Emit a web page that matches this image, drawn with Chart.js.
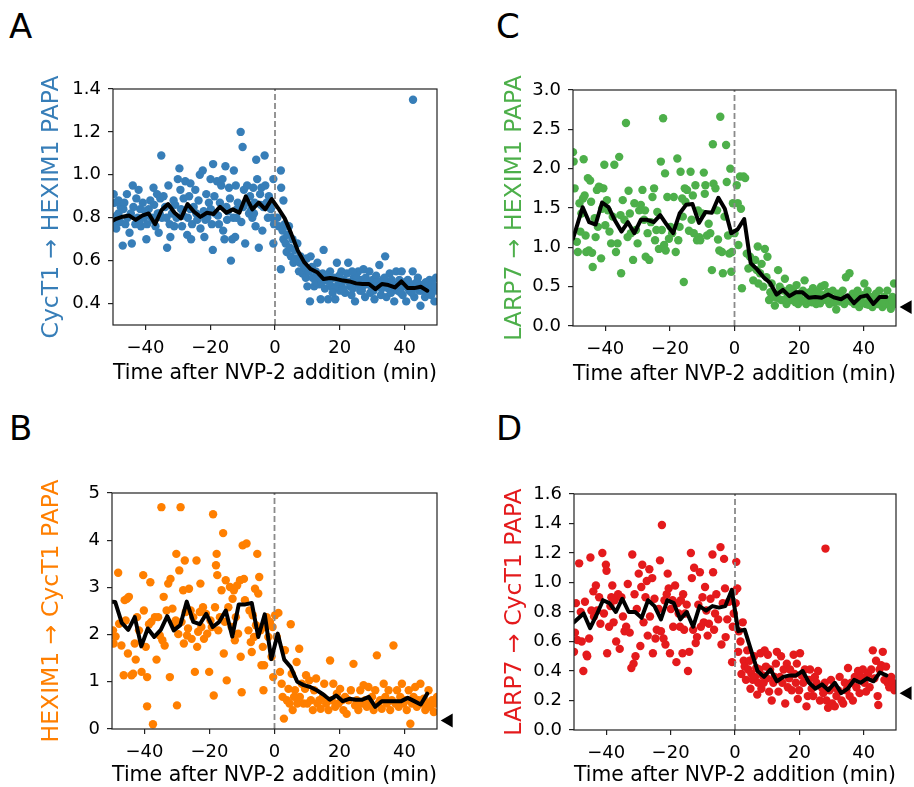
<!DOCTYPE html>
<html>
<head>
  <title>PAPA after NVP-2 addition</title>
  <script src="https://cdn.jsdelivr.net/npm/chart.js"></script>
  <style>
    html, body { margin: 0; padding: 0; background: #fff; overflow: hidden; }
    body { width: 914px; height: 787px; position: relative; font-family: 'DejaVu Sans', sans-serif; }
    canvas { position: absolute; }
    .tag { position: absolute; font-size: 34px; line-height: 34px; color: #000; }
  </style>
</head>
<body>
  <div class="tag" style="left:9px;top:9px">A</div>
  <div class="tag" style="left:496px;top:9px">C</div>
  <div class="tag" style="left:9px;top:411px">B</div>
  <div class="tag" style="left:496px;top:411px">D</div>

  <canvas id="chartA" width="457" height="350" style="left:0;top:50px"></canvas>
  <canvas id="chartC" width="457" height="350" style="left:457px;top:50px"></canvas>
  <canvas id="chartB" width="457" height="350" style="left:0;top:450px"></canvas>
  <canvas id="chartD" width="457" height="350" style="left:457px;top:450px"></canvas>

  <script>
    // ---- data ----
    const timeTicks = [-40, -20, 0, 20, 40];
    const yTicksA = [0.4, 0.6, 0.8, 1.0, 1.2, 1.4];
    const yTicksB = [0, 1, 2, 3, 4, 5];
    const yTicksC = [0.0, 0.5, 1.0, 1.5, 2.0, 2.5, 3.0];
    const yTicksD = [0.0, 0.2, 0.4, 0.6, 0.8, 1.0, 1.2, 1.4, 1.6];

    // running mean (black line)
    const meanTimeA = [-51,-49,-47,-45,-43,-41,-39,-37,-35,-33,-31,-29,-27,-25,-23,-21,-19,-17,-15,-13,-11,-9,-7,-5,-3,-1,1,3,5,7,9,11,13,15,17,19,21,23,25,27,29,31,33,35,37,39,41,43,45,47];
    const meanA = [0.78,0.795,0.805,0.81,0.79,0.81,0.82,0.77,0.836,0.864,0.823,0.797,0.864,0.828,0.804,0.823,0.817,0.851,0.823,0.839,0.823,0.90,0.839,0.87,0.839,0.887,0.844,0.797,0.726,0.648,0.593,0.561,0.546,0.514,0.519,0.514,0.507,0.503,0.494,0.491,0.491,0.467,0.491,0.486,0.475,0.503,0.472,0.472,0.478,0.46];

    const meanTimeC = [-50,-47,-45,-43,-41,-39,-37,-35,-33,-31,-29,-27,-25,-23,-21,-19,-17,-15,-13,-11,-9,-7,-5,-3,-1,1,3,5,7,9,11,13,15,17,19,21,23,25,27,29,31,33,35,37,39,41,43,45,47];
    const meanC = [1.11,1.51,1.32,1.29,1.57,1.51,1.34,1.20,1.32,1.18,1.35,1.35,1.32,1.41,1.29,1.18,1.43,1.54,1.55,1.31,1.45,1.44,1.63,1.49,1.18,1.23,1.36,0.80,0.72,0.62,0.55,0.40,0.46,0.38,0.43,0.43,0.36,0.37,0.36,0.40,0.36,0.34,0.39,0.29,0.37,0.39,0.28,0.37,0.37];

    const meanTimeB = [-51,-49,-47,-45,-43,-41,-39,-37,-35,-33,-31,-29,-27,-25,-23,-21,-19,-17,-15,-13,-11,-9,-7,-5,-3,-1,1,3,5,7,9,11,13,15,17,19,21,23,25,27,29,31,33,35,37,39,41,43,45,47];
    const meanB = [2.70,2.69,2.25,2.10,2.37,1.75,2.13,1.95,2.10,2.39,2.09,2.20,2.70,2.27,2.22,2.44,2.16,2.27,2.51,1.96,2.64,2.64,2.67,1.95,2.43,1.48,2.02,1.47,1.31,1.00,0.93,0.89,0.82,0.73,0.62,0.71,0.59,0.64,0.62,0.62,0.68,0.47,0.59,0.59,0.59,0.59,0.66,0.59,0.52,0.75];

    const meanTimeD = [-50,-47,-45,-43,-41,-39,-37,-35,-33,-31,-29,-27,-25,-23,-21,-19,-17,-15,-13,-11,-9,-7,-5,-3,-1,1,3,5,7,9,11,13,15,17,19,21,23,25,27,29,31,33,35,37,39,41,43,45,47];
    const meanD = [0.73,0.79,0.69,0.78,0.88,0.86,0.80,0.89,0.80,0.80,0.76,0.88,0.84,0.75,0.88,0.86,0.75,0.80,0.70,0.84,0.81,0.84,0.83,0.84,0.95,0.67,0.68,0.54,0.40,0.36,0.41,0.33,0.36,0.37,0.37,0.40,0.32,0.28,0.31,0.27,0.32,0.25,0.28,0.34,0.32,0.35,0.33,0.39,0.37];

    // single-cell values [time, PAPA]
    const cellsA = [
      [-49.8,0.91],[-49.6,0.87],[-49.3,0.77],[-49.0,0.75],[-48.3,0.82],[-48.3,0.88],[-47.6,0.85],[-47.8,0.78],[-47.0,0.67],[-46.5,0.87],
      [-46.2,0.77],[-45.7,0.91],[-45.5,0.80],[-44.9,0.73],[-44.2,0.68],[-43.9,0.95],[-43.7,0.85],[-43.1,0.77],[-42.8,0.89],[-42.4,0.80],
      [-42.1,0.93],[-41.6,0.84],[-41.4,0.76],[-40.8,0.87],[-40.4,0.80],[-39.7,0.70],[-39.5,0.77],[-39.0,0.84],[-38.5,0.88],[-38.0,0.80],
      [-37.5,0.94],[-37.3,0.86],[-36.9,0.76],[-36.4,0.91],[-36.2,0.82],[-35.9,0.73],[-35.4,0.89],[-35.1,1.09],[-34.9,0.80],[-34.4,0.90],
      [-33.9,0.85],[-33.3,0.66],[-32.9,0.95],[-32.5,0.77],[-32.3,0.71],[-31.8,0.82],[-31.3,0.88],[-31.1,0.76],[-30.4,0.80],[-30.0,0.98],
      [-29.5,1.03],[-29.2,0.93],[-29.0,0.84],[-28.7,0.76],[-28.2,0.89],[-27.7,0.97],[-27.1,0.72],[-26.9,0.80],[-26.5,0.90],[-26.1,0.96],
      [-25.9,0.70],[-25.6,0.77],[-25.1,0.85],[-24.6,0.93],[-24.0,0.79],[-23.6,0.88],[-23.2,1.00],[-23.0,0.75],[-22.3,1.02],[-22.0,0.83],
      [-21.8,0.71],[-21.2,0.91],[-20.9,0.80],[-20.4,0.87],[-19.9,0.98],[-19.5,0.77],[-19.2,0.65],[-19.1,1.05],[-18.7,0.90],[-18.4,0.82],
      [-17.9,0.97],[-17.3,0.77],[-17.0,0.87],[-16.6,0.95],[-16.2,0.98],[-16.0,0.74],[-15.6,0.70],[-15.3,1.04],[-15.0,0.85],[-14.8,0.79],
      [-14.2,0.94],[-13.9,0.89],[-13.6,0.60],[-13.2,0.70],[-12.9,0.80],[-12.7,1.02],[-12.3,0.71],[-12.1,0.95],[-11.7,0.84],[-11.5,0.87],
      [-10.6,1.20],[-10.4,0.78],[-10.0,1.13],[-9.6,0.93],[-9.2,0.68],[-9.0,0.87],[-8.6,0.95],[-8.0,0.82],[-7.7,0.90],[-7.3,0.84],
      [-7.0,0.80],[-6.7,0.94],[-6.3,0.87],[-6.0,0.76],[-5.8,1.07],[-5.5,0.98],[-5.0,0.66],[-4.6,0.91],[-4.2,0.94],[-3.9,0.74],
      [-3.6,0.85],[-3.2,1.09],[-3.0,0.95],[-2.6,0.87],[-1.9,0.90],[-1.3,0.84],[-0.8,0.80],[-0.5,0.98],[-0.5,0.68],[-0.3,0.77],
      [-48.8,0.81],[-46.8,0.84],[-44.5,0.82],[-42.0,0.78],[-40.0,0.83],[-37.8,0.79],[-35.6,0.82],[-33.5,0.80],[-30.8,0.86],[-28.4,0.81],
      [-26.2,0.84],[-24.3,0.82],[-21.5,0.79],[-19.8,0.84],[-17.6,0.81],[-14.5,0.83],[-11.9,0.80],[-9.8,0.85],[-6.5,0.82],[-4.4,0.86],
      [-2.2,0.80],[-1.0,0.85],
      [1.8,1.02],[1.9,0.94],[2.6,0.88],[0.7,0.80],[1.2,0.76],[1.8,0.56],[2.3,0.74],[2.6,0.70],[3.0,0.77],[3.3,0.68],
      [3.6,0.64],[3.8,0.72],[4.3,0.76],[4.6,0.66],[4.9,0.62],[5.4,0.70],[5.7,0.59],[6.1,0.65],[6.4,0.61],[6.9,0.68],
      [7.4,0.55],[7.7,0.59],[7.9,0.62],[8.5,0.54],[9.0,0.57],[9.5,0.52],[9.8,0.61],[10.0,0.48],[10.5,0.55],[10.8,0.41],
      [11.0,0.62],[11.6,0.52],[12.1,0.48],[12.6,0.55],[13.1,0.59],[13.6,0.49],[14.1,0.42],[14.7,0.54],[15.0,0.65],[15.4,0.47],
      [16.0,0.51],[16.4,0.42],[17.0,0.55],[17.4,0.48],[18.1,0.52],[18.6,0.42],[19.1,0.59],[19.5,0.49],[20.1,0.46],[20.5,0.55],
      [21.2,0.51],[21.6,0.45],[22.2,0.54],[22.6,0.59],[23.2,0.48],[23.6,0.44],[24.3,0.52],[24.7,0.41],[25.3,0.49],[25.7,0.55],
      [26.3,0.46],[26.7,0.51],[27.3,0.56],[27.8,0.43],[28.4,0.49],[29.1,0.55],[29.4,0.45],[30.1,0.51],[30.7,0.42],[31.2,0.53],
      [31.7,0.48],[32.2,0.58],[32.7,0.44],[33.2,0.51],[34.0,0.62],[34.4,0.43],[34.8,0.49],[35.4,0.54],[35.8,0.45],[36.4,0.49],
      [36.8,0.41],[37.4,0.55],[37.9,0.46],[38.4,0.51],[39.1,0.55],[39.4,0.44],[39.9,0.48],[40.5,0.41],[41.0,0.51],[41.5,0.46],
      [42.0,0.49],[42.6,1.35],[42.5,0.55],[43.0,0.43],[43.5,0.48],[44.1,0.52],[44.9,0.39],[45.3,0.46],[45.9,0.49],[46.3,0.43],
      [47.0,0.47],[47.7,0.51],[48.2,0.44],[48.7,0.47],[49.2,0.41],[49.7,0.52],[50.0,0.46],
      [12.5,0.50],[13.8,0.52],[16.8,0.50],[18.4,0.47],[19.8,0.53],[21.0,0.47],[22.9,0.50],[24.0,0.47],[25.0,0.53],[26.0,0.50],
      [27.0,0.48],[28.0,0.52],[29.8,0.48],[30.4,0.46],[31.5,0.50],[32.9,0.47],[33.8,0.52],[35.0,0.47],[36.0,0.51],[37.0,0.48],
      [38.0,0.49],[38.8,0.45],[40.2,0.50],[41.2,0.47],[42.2,0.45],[43.8,0.50],[44.5,0.46],[45.6,0.47],[46.6,0.50],[47.4,0.45],
      [48.5,0.49],[49.5,0.48],[11.4,0.57],[12.9,0.53],[14.4,0.50],[15.8,0.53],[17.8,0.45],[20.8,0.50],[23.8,0.55],[26.8,0.46]
    ];

    const cellsC = [
      [-50.0,2.21],[-49.8,2.09],[-49.5,1.75],[-48.5,0.94],[-48.8,1.07],[-48.0,1.56],[-47.7,1.20],[-47.4,1.43],[-46.9,1.62],[-46.7,2.12],
      [-46.4,1.66],[-46.1,1.15],[-45.9,0.94],[-45.4,1.88],[-45.1,0.96],[-44.7,1.85],[-44.4,1.58],[-44.1,0.93],[-43.9,0.75],[-43.3,1.37],
      [-43.0,1.13],[-42.6,1.73],[-42.3,1.26],[-42.0,1.77],[-41.6,1.76],[-41.3,0.86],[-41.0,1.49],[-40.6,1.75],[-40.3,2.05],[-40.0,1.28],
      [-39.5,1.60],[-39.2,1.47],[-38.7,1.20],[-38.2,1.05],[-37.7,1.39],[-37.2,2.05],[-36.7,0.94],[-36.2,1.05],[-35.7,2.15],[-35.3,1.41],
      [-35.1,0.67],[-34.6,1.60],[-34.1,1.35],[-33.6,2.58],[-33.1,1.13],[-32.8,1.72],[-32.4,1.43],[-32.1,1.18],[-31.4,0.84],[-31.0,1.56],
      [-30.5,1.22],[-30.0,1.05],[-29.5,1.47],[-29.0,1.54],[-28.5,1.73],[-28.0,1.35],[-27.7,1.47],[-27.5,0.88],[-26.9,1.18],[-26.4,0.84],
      [-25.9,1.32],[-25.4,1.64],[-24.9,1.75],[-24.6,1.09],[-24.2,1.22],[-23.9,1.45],[-23.4,0.98],[-22.8,2.09],[-22.5,1.22],[-22.1,2.64],
      [-21.8,1.03],[-21.5,1.94],[-21.3,0.96],[-20.8,1.64],[-20.3,1.11],[-19.8,1.26],[-19.3,1.18],[-18.8,1.64],[-18.2,0.94],[-17.7,2.13],
      [-17.4,1.09],[-17.0,1.26],[-16.7,1.96],[-16.2,1.62],[-16.0,1.39],[-15.7,0.56],[-15.4,1.75],[-15.2,1.58],[-14.7,1.73],[-14.1,1.21],
      [-13.6,1.96],[-13.3,1.35],[-12.9,1.66],[-12.6,1.18],[-12.1,1.79],[-11.6,1.09],[-11.3,1.47],[-10.9,1.13],[-10.6,1.09],[-10.0,1.43],
      [-9.5,1.95],[-9.2,1.68],[-9.0,1.79],[-8.5,1.15],[-8.0,1.30],[-7.5,1.18],[-7.0,0.71],[-6.7,2.31],[-6.5,1.81],[-5.9,1.75],
      [-5.4,1.47],[-5.1,1.10],[-4.7,0.96],[-4.4,2.66],[-3.9,0.94],[-3.6,0.67],[-3.1,1.39],[-2.6,2.30],[-2.4,1.83],[-2.0,1.15],
      [-1.6,0.92],[-1.3,2.00],[-1.0,0.69],[-0.8,0.94],[-0.5,1.56],[0.0,1.18],[0.7,1.79],[1.0,1.56],[1.2,1.03],[1.7,1.90],
      [2.0,1.49],[2.3,0.48],[2.8,1.90],[3.3,1.88],[3.8,0.92],[4.3,0.73],[4.8,0.88],[5.3,0.75],[5.8,0.58],[6.4,0.84],
      [6.9,0.71],[7.2,1.01],[7.4,0.54],[7.9,0.67],[8.4,0.79],[8.9,0.50],[9.4,0.98],[9.9,0.62],[10.2,0.88],[10.7,0.33],
      [11.1,0.43],[11.5,0.54],[12.0,0.37],[12.5,0.26],[13.0,0.41],[13.5,0.71],[14.0,0.50],[14.5,0.33],[15.1,0.45],[15.6,0.60],
      [16.1,0.28],[16.6,0.39],[17.1,0.48],[17.6,0.33],[18.1,0.45],[18.6,0.37],[19.2,0.52],[19.7,0.28],[20.2,0.41],[20.7,0.33],
      [21.2,0.45],[21.7,0.58],[22.2,0.28],[22.7,0.37],[23.3,0.43],[23.8,0.33],[24.3,0.48],[24.8,0.37],[25.3,0.28],[25.8,0.43],
      [26.3,0.33],[26.8,0.50],[27.4,0.39],[27.9,0.52],[28.4,0.33],[28.9,0.43],[29.4,0.28],[29.9,0.35],[30.4,0.45],[30.9,0.33],
      [31.5,0.21],[32.0,0.41],[32.5,0.31],[33.0,0.37],[33.5,0.45],[34.0,0.28],[34.5,0.62],[35.0,0.35],[35.6,0.67],[36.1,0.31],
      [36.6,0.41],[37.1,0.28],[37.6,0.37],[38.1,0.45],[38.6,0.24],[39.1,0.33],[39.7,0.39],[40.2,0.54],[40.7,0.28],[41.2,0.45],
      [41.7,0.33],[42.2,0.37],[42.7,0.24],[43.2,0.33],[43.8,0.41],[44.3,0.28],[44.8,0.45],[45.3,0.33],[45.8,0.24],[46.3,0.37],
      [46.8,0.28],[47.3,0.45],[47.8,0.33],[48.4,0.22],[48.9,0.37],[49.4,0.54],[49.6,0.28],
      [13.2,0.36],[15.8,0.34],[18.9,0.30],[21.5,0.32],[24.0,0.30],[26.5,0.29],[29.0,0.36],[31.0,0.30],[33.8,0.33],[36.4,0.35],
      [38.9,0.30],[41.5,0.27],[44.0,0.36],[46.0,0.30],[48.0,0.27],[49.0,0.31]
    ];

    const cellsB = [
      [-49.7,2.09],[-49.5,1.81],[-48.9,1.96],[-48.1,3.31],[-47.8,2.23],[-47.1,1.77],[-46.4,1.14],[-46.1,2.73],[-45.8,2.30],[-45.4,2.76],
      [-45.1,1.60],[-44.8,2.80],[-44.0,1.14],[-43.5,1.17],[-43.0,1.81],[-42.7,1.47],[-42.3,2.37],[-41.7,2.09],[-40.9,1.21],[-40.4,3.26],
      [-40.2,2.51],[-39.6,1.74],[-39.2,1.10],[-38.6,2.22],[-38.2,3.11],[-37.9,2.27],[-37.4,0.10],[-39.2,0.48],[-36.8,2.37],[-36.3,1.47],
      [-35.8,2.37],[-35.3,1.98],[-34.8,4.70],[-34.5,1.88],[-34.1,2.80],[-33.8,1.77],[-33.2,2.51],[-32.7,3.08],[-32.2,1.10],[-32.0,3.18],
      [-31.4,2.55],[-31.0,2.23],[-30.4,2.30],[-30.2,3.71],[-30.0,0.50],[-29.6,2.01],[-29.3,3.36],[-28.9,4.70],[-28.6,2.27],[-28.1,2.94],
      [-27.9,1.81],[-27.6,3.57],[-27.3,2.48],[-26.9,1.98],[-26.6,2.13],[-26.3,2.97],[-25.8,2.51],[-25.5,1.91],[-25.0,2.37],[-24.5,1.21],
      [-24.0,3.57],[-23.8,1.74],[-23.5,2.06],[-23.0,2.48],[-22.8,3.08],[-22.5,2.16],[-22.0,2.58],[-21.7,1.91],[-21.1,2.44],[-20.7,2.02],
      [-20.1,1.21],[-19.7,2.30],[-19.3,2.16],[-18.9,4.55],[-18.7,0.71],[-18.3,2.58],[-18.0,3.47],[-17.8,3.71],[-17.6,3.26],[-17.3,2.09],
      [-16.8,2.37],[-16.3,2.94],[-15.8,4.15],[-15.6,1.60],[-15.3,2.27],[-15.0,3.15],[-14.7,1.03],[-14.2,2.58],[-13.7,3.01],[-13.2,2.16],
      [-12.9,2.76],[-12.5,2.94],[-12.2,1.88],[-11.9,2.37],[-11.5,3.04],[-11.2,2.02],[-10.6,3.15],[-10.4,1.53],[-10.1,0.78],[-9.8,3.89],
      [-9.4,3.18],[-9.1,2.73],[-8.6,3.93],[-8.0,2.09],[-7.7,2.51],[-7.3,1.84],[-7.0,1.63],[-6.7,2.41],[-6.3,1.95],[-6.0,2.97],
      [-5.7,2.20],[-5.3,3.71],[-5.0,2.87],[-4.7,3.22],[-4.3,2.09],[-4.0,1.35],[-3.6,1.74],[-3.4,0.82],[-3.2,1.35],[-2.9,2.16],
      [-2.4,2.37],[-1.9,1.95],[-1.4,2.27],[-0.9,1.53],[-0.6,2.16],[-0.4,1.10],[0.2,2.41],[0.7,1.95],[1.2,2.46],[1.7,1.21],
      [2.2,0.96],[2.5,0.68],[2.9,0.22],[3.2,1.67],[3.8,0.61],[4.3,0.85],[4.6,0.54],[5.0,2.22],[5.3,1.17],[5.6,0.40],
      [6.0,0.68],[6.3,0.82],[6.8,1.42],[7.0,0.54],[7.6,1.70],[7.8,0.68],[8.4,0.96],[8.9,0.54],[9.4,0.85],[9.7,1.14],
      [10.1,0.54],[10.7,1.03],[11.2,0.61],[11.8,0.40],[12.2,0.82],[12.8,1.07],[13.2,0.54],[13.8,0.61],[14.2,0.43],[14.9,0.68],
      [15.3,0.96],[15.9,0.54],[16.6,0.40],[17.1,1.45],[17.6,0.61],[18.1,0.96],[18.7,0.47],[19.2,0.75],[19.7,0.54],[20.2,0.85],
      [20.7,0.61],[21.2,0.40],[21.7,0.68],[22.2,0.32],[22.8,0.61],[23.5,0.82],[24.3,1.38],[24.8,0.50],[25.3,0.61],[25.8,0.40],
      [26.4,0.82],[26.9,0.54],[27.4,0.93],[27.9,0.61],[28.4,0.47],[28.9,0.89],[29.4,0.54],[30.0,0.68],[30.5,0.40],[31.0,0.82],
      [31.5,1.56],[32.0,0.54],[32.5,0.61],[33.0,0.43],[33.6,0.96],[34.1,0.68],[34.6,0.54],[35.1,0.82],[35.6,0.40],[36.1,0.61],
      [36.6,1.77],[37.2,0.54],[37.7,0.82],[38.2,0.47],[38.7,0.68],[39.2,0.96],[39.7,0.54],[40.2,0.61],[40.7,0.40],[41.3,0.82],
      [41.8,0.11],[42.3,0.54],[42.8,0.68],[43.3,0.89],[43.8,0.47],[44.3,0.61],[44.9,0.96],[45.4,0.54],[45.9,0.64],[46.4,0.40],
      [46.9,0.54],[47.4,0.82],[47.9,0.47],[48.5,0.61],[49.0,0.36],[49.5,0.54],[50.0,0.68]
    ];

    const cellsD = [
      [-50.0,0.53],[-49.7,0.66],[-49.4,0.86],[-49.0,0.61],[-48.4,1.13],[-47.9,0.80],[-47.6,0.60],[-47.1,0.40],[-46.6,0.87],[-46.1,0.51],
      [-45.9,0.50],[-45.3,0.62],[-44.9,1.17],[-44.6,0.81],[-44.0,0.94],[-43.8,0.77],[-43.2,0.98],[-42.8,0.81],[-42.2,0.90],[-41.8,0.72],
      [-41.2,1.20],[-40.7,0.79],[-40.1,1.12],[-39.9,1.08],[-39.7,0.52],[-39.1,0.70],[-38.7,0.84],[-38.4,0.90],[-38.1,0.98],[-37.7,0.73],
      [-37.4,0.88],[-36.9,0.60],[-36.3,0.92],[-35.8,0.55],[-35.3,0.90],[-34.8,0.77],[-34.3,0.67],[-33.8,0.70],[-33.3,0.99],[-32.7,0.66],
      [-32.2,0.42],[-31.9,1.19],[-31.5,0.45],[-31.2,0.92],[-30.9,0.50],[-30.5,0.82],[-29.9,1.06],[-29.4,0.57],[-29.1,0.97],[-28.8,1.12],
      [-28.4,0.73],[-27.8,0.90],[-27.4,1.01],[-27.1,0.64],[-26.6,1.09],[-26.4,0.77],[-25.7,1.03],[-25.5,0.52],[-25.0,0.89],[-24.7,0.62],
      [-24.3,0.68],[-23.7,0.82],[-23.3,1.15],[-23.0,0.67],[-22.7,1.39],[-22.2,0.62],[-21.9,0.88],[-21.6,0.58],[-21.2,0.92],[-20.9,1.06],
      [-20.6,0.96],[-20.2,0.52],[-19.9,0.82],[-19.4,0.88],[-19.2,0.70],[-18.6,0.98],[-18.2,0.46],[-17.8,0.86],[-17.5,0.79],[-17.1,0.70],
      [-16.8,0.88],[-16.3,0.52],[-16.1,0.92],[-15.8,0.68],[-15.5,0.79],[-15.0,0.85],[-14.6,0.40],[-14.2,0.53],[-13.7,1.20],[-13.4,1.03],
      [-13.0,0.68],[-12.7,1.10],[-12.2,0.59],[-11.8,0.63],[-11.4,0.85],[-10.9,1.07],[-10.6,0.70],[-10.1,0.90],[-9.7,0.73],[-9.3,0.97],
      [-8.9,0.81],[-8.5,0.64],[-8.1,0.72],[-7.6,0.89],[-7.0,1.19],[-6.8,1.07],[-6.5,0.68],[-6.2,0.79],[-5.8,0.92],[-5.2,0.75],
      [-4.5,1.24],[-4.2,0.58],[-3.8,0.86],[-3.4,1.16],[-3.1,0.96],[-2.9,0.63],[-2.4,0.75],[-1.9,0.87],[-0.9,0.46],[-0.7,0.70],
      [-0.4,0.79],[-0.1,0.94],[0.2,0.86],[0.4,1.14],[0.7,0.96],[1.0,0.53],[1.2,0.67],[1.7,0.60],[2.0,0.38],[2.4,0.73],
      [2.7,0.47],[3.0,0.43],[3.4,0.34],[3.8,0.54],[4.1,0.41],[4.5,0.47],[4.8,0.28],[5.1,0.38],[5.5,0.34],[5.9,0.50],
      [6.2,0.36],[6.6,0.42],[6.9,0.24],[7.2,0.32],[7.6,0.41],[7.9,0.52],[8.2,0.28],[8.6,0.37],[8.9,0.32],[9.2,0.54],
      [9.6,0.43],[9.9,0.35],[10.2,0.51],[10.6,0.26],[10.9,0.41],[11.4,0.20],[11.9,0.32],[12.3,0.36],[12.7,0.45],[13.0,0.53],
      [13.5,0.26],[14.0,0.36],[14.3,0.50],[14.7,0.32],[15.1,0.41],[15.6,0.18],[16.1,0.45],[16.4,0.29],[16.8,0.35],[17.1,0.41],
      [17.6,0.27],[18.2,0.51],[18.5,0.38],[18.9,0.32],[19.2,0.45],[19.5,0.21],[19.9,0.27],[20.2,0.52],[20.7,0.37],[21.2,0.32],
      [21.7,0.41],[22.2,0.16],[22.6,0.23],[23.0,0.34],[23.3,0.41],[23.8,0.28],[24.3,0.23],[24.8,0.36],[25.3,0.32],[25.8,0.40],
      [26.4,0.20],[26.9,0.29],[27.4,0.25],[27.9,0.32],[28.1,1.23],[28.4,0.20],[28.9,0.15],[29.4,0.27],[29.8,0.34],[30.2,0.18],
      [30.6,0.29],[31.0,0.16],[31.5,0.23],[32.0,0.27],[32.5,0.36],[33.1,0.20],[33.6,0.18],[34.1,0.32],[34.6,0.27],[35.1,0.42],
      [35.6,0.23],[36.1,0.32],[36.6,0.20],[37.2,0.36],[37.7,0.29],[38.2,0.40],[38.7,0.25],[39.2,0.36],[39.7,0.41],[40.2,0.32],
      [40.7,0.26],[41.3,0.38],[41.8,0.29],[42.3,0.41],[42.8,0.54],[43.3,0.35],[43.8,0.47],[44.3,0.23],[44.5,0.17],[44.9,0.41],
      [45.4,0.44],[45.9,0.53],[46.4,0.34],[46.9,0.43],[47.4,0.32],[47.9,0.29],[48.5,0.36],[49.0,0.32],[49.5,0.27],[49.7,0.29]
    ];

    // black arrowheads at the right of B, C, D
    const refTime = 53.6;
    const refB = 0.18;
    const refC = 0.24;
    const refD = 0.25;

    // ---- drawing ----
    const FONT = "'DejaVu Sans', sans-serif";

    function fmtTime(v) {
      return v < 0 ? '\u2212' + Math.abs(v) : String(v);
    }

    const frame = {
      id: 'frame',
      afterDatasetsDraw(chart) {
        const a = chart.chartArea;
        const ctx = chart.ctx;
        ctx.save();
        ctx.strokeStyle = '#222';
        ctx.lineWidth = 1.2;
        ctx.strokeRect(a.left, a.top, a.right - a.left, a.bottom - a.top);
        ctx.restore();
      }
    };

    function makePanel(id, p) {
      const datasets = [
        {
          label: 'mean',
          data: p.meanTime.map((t, i) => ({ x: t, y: p.mean[i] })),
          showLine: true,
          borderColor: '#000',
          borderWidth: 4,
          borderJoinStyle: 'round',
          borderCapStyle: 'round',
          pointRadius: 0,
          clip: 0,
          order: 1
        },
        {
          label: 'NVP-2',
          data: [{ x: 0, y: p.yMin }, { x: 0, y: p.yMax }],
          showLine: true,
          borderColor: '#8a8a8a',
          borderWidth: 1.8,
          borderDash: [6, 3],
          pointRadius: 0,
          clip: 0,
          order: 2
        },
        {
          label: 'cells',
          data: p.cells.map(c => ({ x: c[0], y: c[1] })),
          pointBackgroundColor: p.color,
          pointBorderWidth: 0,
          pointRadius: 4.2,
          clip: 0,
          order: 3
        }
      ];
      if (p.ref !== undefined) {
        // hover radius only widens the in-area test so the marker outside the frame is drawn
        datasets.push({
          label: 'ref',
          data: [{ x: refTime, y: p.ref }],
          pointStyle: 'triangle',
          rotation: -90,
          pointRadius: 8,
          pointHoverRadius: 18,
          pointBackgroundColor: '#000',
          pointBorderWidth: 0,
          clip: false,
          order: 0
        });
      }

      new Chart(document.getElementById(id), {
        type: 'scatter',
        data: { datasets },
        options: {
          responsive: false,
          animation: false,
          events: [],
          layout: { padding: { left: 0, top: p.top, right: p.right, bottom: 0 } },
          plugins: { legend: { display: false }, tooltip: { enabled: false } },
          scales: {
            x: {
              type: 'linear',
              min: -50,
              max: 50,
              afterBuildTicks: s => { s.ticks = timeTicks.map(v => ({ value: v })); },
              afterFit: s => { s.height = p.xAxisH; },
              grid: { display: true, drawOnChartArea: false, drawTicks: true, tickLength: 5, color: '#222', lineWidth: 1.2 },
              border: { display: false },
              ticks: { font: { family: FONT, size: 18 }, color: '#000', padding: 8, maxRotation: 0, callback: fmtTime },
              title: {
                display: true,
                text: 'Time after NVP-2 addition (min)',
                color: '#000',
                font: { family: FONT, size: 20.6 },
                padding: { top: 0, bottom: p.xTitlePad }
              }
            },
            y: {
              type: 'linear',
              min: p.yMin,
              max: p.yMax,
              afterBuildTicks: s => { s.ticks = p.yTicks.map(v => ({ value: v })); },
              afterFit: s => { s.width = p.yAxisW; },
              grid: { display: true, drawOnChartArea: false, drawTicks: true, tickLength: 5, color: '#222', lineWidth: 1.2 },
              border: { display: false },
              ticks: {
                font: { family: FONT, size: 18 },
                color: '#000',
                padding: 7,
                callback: v => v.toFixed(p.decimals)
              },
              title: {
                display: true,
                text: p.label,
                color: p.color,
                font: { family: FONT, size: 23.5 },
                padding: { top: p.yTitlePad, bottom: 0 }
              }
            }
          }
        },
        plugins: [frame]
      });
    }

    makePanel('chartA', {
      meanTime: meanTimeA, mean: meanA, cells: cellsA, color: '#377eb8',
      label: 'CycT1 \u2192 HEXIM1 PAPA', yMin: 0.3, yMax: 1.4, yTicks: yTicksA, decimals: 1,
      top: 39, right: 20, yAxisW: 113, xAxisH: 75, yTitlePad: 37.5, xTitlePad: 13.7
    });
    makePanel('chartC', {
      meanTime: meanTimeC, mean: meanC, cells: cellsC, color: '#4daf4a', ref: refC,
      label: 'LARP7 \u2192 HEXIM1 PAPA', yMin: 0, yMax: 3.0, yTicks: yTicksC, decimals: 1,
      top: 40, right: 15, yAxisW: 116, xAxisH: 74, yTitlePad: 43.5, xTitlePad: 12.7
    });
    makePanel('chartB', {
      meanTime: meanTimeB, mean: meanB, cells: cellsB, color: '#ff7f00', ref: refB,
      label: 'HEXIM1 \u2192 CycT1 PAPA', yMin: 0, yMax: 5, yTicks: yTicksB, decimals: 0,
      top: 43, right: 20, yAxisW: 112, xAxisH: 71, yTitlePad: 37.5, xTitlePad: 11.7
    });
    makePanel('chartD', {
      meanTime: meanTimeD, mean: meanD, cells: cellsD, color: '#e41a1c', ref: refD,
      label: 'LARP7 \u2192 CycT1 PAPA', yMin: 0, yMax: 1.6, yTicks: yTicksD, decimals: 1,
      top: 44, right: 16, yAxisW: 117, xAxisH: 70, yTitlePad: 43.5, xTitlePad: 11.7
    });
  </script>
</body>
</html>
